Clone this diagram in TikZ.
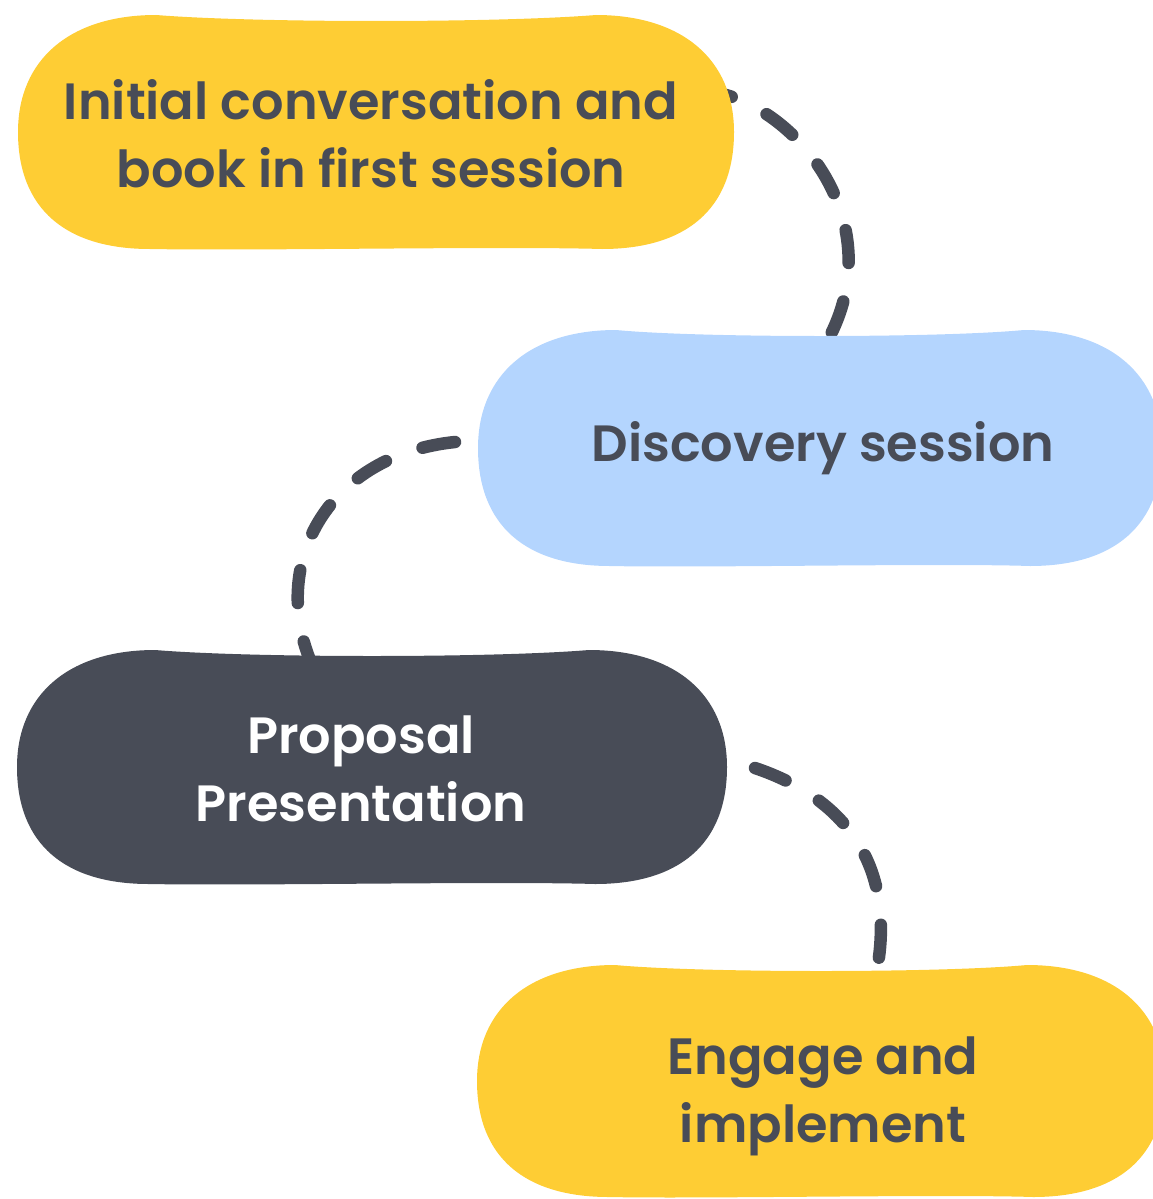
\documentclass[tikz,border=0pt]{standalone}
\usepackage{fontspec}
\newfontfamily\poppins{Poppins SemiBold}
\definecolor{sun}{HTML}{FECD34}
\definecolor{sky}{HTML}{B4D5FE}
\definecolor{slate}{HTML}{484C57}
\newcommand\blob[4]{%
  \fill[#1,shift={(#2)}] (-#3,0)
    .. controls (-#3,-0.62*#4) and (-#3+52,-#4) .. (-#3+138,-#4)
    .. controls (-120,-#4+8) and (120,-#4+8) .. (#3-138,-#4)
    .. controls (#3-52,-#4) and (#3,-0.62*#4) .. (#3,0)
    .. controls (#3,0.66*#4) and (#3-48,#4) .. (#3-132,#4)
    .. controls (120,#4-3) and (-120,#4+2) .. (-#3+132,#4)
    .. controls (-#3+48,#4) and (-#3,0.66*#4) .. (-#3,0) -- cycle;}

\begin{document}
\begin{tikzpicture}
  [x=1pt,y=-1pt,
   steptext/.style={align=center,text=slate,font=\poppins\fontsize{51}{68}\selectfont},
   link/.style={draw=slate,line width=12.5pt,line cap=round,dash pattern=on 33pt off 39pt}]
  \useasboundingbox (0,0) rectangle (1153,1199);
  \clip (0,0) rectangle (1153,1199);
  \coordinate (initR) at (726,95);
  \coordinate (discT) at (831,334);
  \coordinate (discL) at (455,442);
  \coordinate (propT) at (310,660);
  \coordinate (propR) at (755,768);
  \coordinate (engT) at (877,970);
  \draw[link,dash phase=27pt] (initR) .. controls (805,118) and (885,225) .. (discT);
  \draw[link] (discL) .. controls (330,455) and (270,560) .. (propT);
  \draw[link] (propR) .. controls (850,800) and (895,870) .. (engT);
  \blob{sun}{376,132}{358}{117}
  \blob{sky}{820,448}{342}{118}
  \blob{slate}{372,767}{355}{117}
  \blob{sun}{821,1081}{344}{116}
  \node[steptext] (init) at (371,134) {Initial conversation and\\book in first session};
  \node[steptext] (disc) at (823,448) {Discovery session};
  \node[steptext,text=white] (prop) at (361,769) {Proposal\\Presentation};
  \node[steptext] (engage) at (823,1096) {Engage and\\implement};
\end{tikzpicture}
\end{document}
